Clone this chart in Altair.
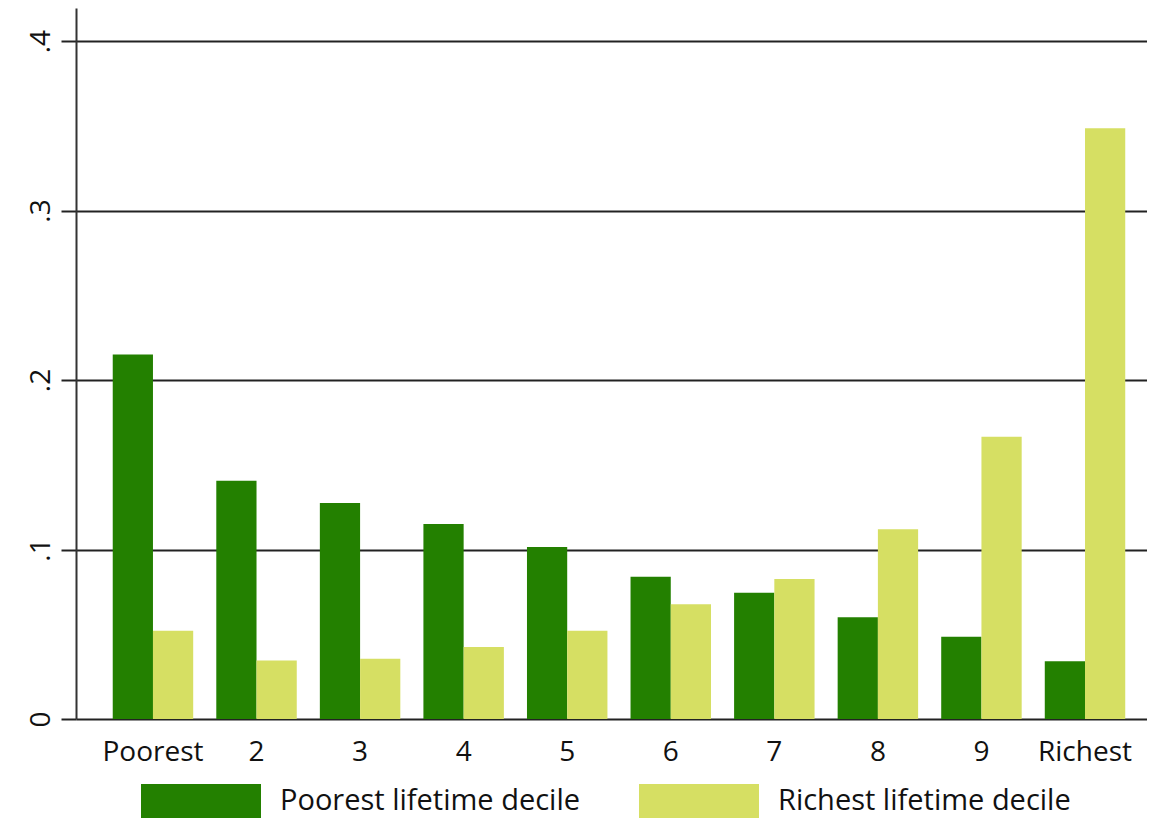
import altair as alt
import pandas as pd

deciles = ["Poorest", "2", "3", "4", "5", "6", "7", "8", "9", "Richest"]
poorest_lifetime = [0.215, 0.1405, 0.1275, 0.115, 0.1015, 0.084, 0.0745, 0.060, 0.0485, 0.034]
richest_lifetime = [0.052, 0.0345, 0.0355, 0.0425, 0.052, 0.0677, 0.0826, 0.112, 0.1665, 0.3485]
series_names = ["Poorest lifetime decile", "Richest lifetime decile"]
series_colors = ["#238000", "#d6df63"]
y_ticks = [0, 0.1, 0.2, 0.3, 0.4]
y_tick_labels = ["0", ".1", ".2", ".3", ".4"]

rows = []
for i, d in enumerate(deciles):
    rows.append({"decile": d, "series": series_names[0], "value": poorest_lifetime[i]})
    rows.append({"decile": d, "series": series_names[1], "value": richest_lifetime[i]})
df = pd.DataFrame(rows)

label_lookup = "[" + ",".join("'" + s + "'" for s in y_tick_labels) + "]"
FONT = "Open Sans"

chart = (
    alt.Chart(df)
    .mark_bar()
    .encode(
        x=alt.X(
            "decile:N",
            sort=deciles,
            scale=alt.Scale(paddingInner=0.223, paddingOuter=0.2824, align=0.628),
            axis=alt.Axis(
                title=None,
                labelAngle=0,
                domain=False,
                ticks=False,
                tickSize=0,
                labelPadding=19,
                labelFont=FONT,
                labelFontSize=28,
                labelColor="#111111",
            ),
        ),
        xOffset=alt.XOffset("series:N", sort=series_names),
        y=alt.Y(
            "value:Q",
            scale=alt.Scale(domain=[0, 0.4195], nice=False, zero=True),
            axis=alt.Axis(
                title=None,
                values=y_ticks,
                labelExpr=label_lookup + "[round(datum.value*10)]",
                labelAngle=270,
                labelAlign="center",
                labelBaseline="bottom",
                labelPadding=6,
                tickSize=15,
                tickColor="#222222",
                tickWidth=2,
                domainColor="#333333",
                domainWidth=2,
                grid=True,
                gridColor="#222222",
                gridWidth=2,
                labelFont=FONT,
                labelFontSize=28,
                labelColor="#111111",
            ),
        ),
        color=alt.Color(
            "series:N",
            scale=alt.Scale(domain=series_names, range=series_colors),
            legend=alt.Legend(
                title=None,
                orient="none",
                direction="horizontal",
                legendX=65,
                legendY=733,
                symbolType="M-1,-0.2833H1V0.2833H-1Z",
                symbolSize=14400,
                symbolStrokeWidth=0,
                symbolOpacity=1,
                labelOffset=19,
                columnPadding=58,
                labelFont=FONT,
                labelFontSize=29,
                labelColor="#111111",
                labelLimit=600,
            ),
        ),
    )
    .properties(
        width=1071,
        height=711,
        background="white",
        autosize=alt.AutoSizeParams(type="none"),
        padding={"left": 68, "top": 0, "right": 0, "bottom": 100},
    )
    .configure_view(stroke=None)
)

chart.save("out.html", embed_options={"renderer": "svg", "actions": False})
